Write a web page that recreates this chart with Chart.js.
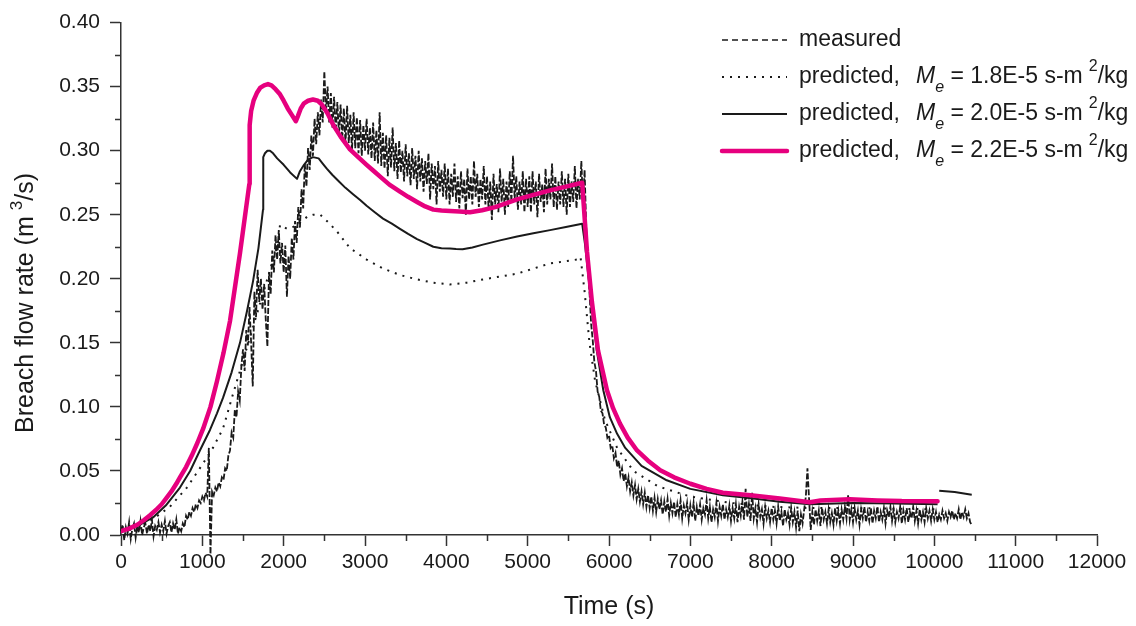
<!DOCTYPE html>
<html>
<head>
    <title>Breach flow rate</title>
    <script src="https://cdn.jsdelivr.net/npm/chart.js"></script>
    <style>
        body { margin: 0; background: #fff; }
    </style>
</head>
<body>
    <canvas id="myChart" width="1136" height="626"></canvas>
    <script>
        // measured breach flow, logged every 20 s from t = 0
        const measuredInterval = 20;
        const measuredFlow = [
            // 0 - 480 s
            0.003, 0.008, -0.004, 0.006, 0.001, 0.010, -0.003, 0.005, 0.009, -0.002,
            0.007, 0.002, 0.011, 0.000, 0.006, 0.009, 0.001, 0.008, 0.003, 0.012,
            -0.001, 0.007, 0.004, 0.010, 0.002,
            // 500 - 980 s
            0.008, 0.003, 0.011, 0.001, 0.007, 0.010, 0.002, 0.009, 0.004, 0.012,
            0.001, 0.006, 0.003, 0.009, 0.006, 0.015, 0.012, 0.018, 0.015, 0.021,
            0.018, 0.024, 0.021, 0.027, 0.025,
            // 1000 - 1480 s
            0.030, 0.027, 0.033, 0.030, 0.068, -0.015, 0.034, 0.031, 0.037, 0.034,
            0.041, 0.038, 0.045, 0.043, 0.052, 0.050, 0.062, 0.066, 0.080, 0.076,
            0.098, 0.092, 0.112, 0.105, 0.132,
            // 1500 - 1980 s
            0.145, 0.128, 0.160, 0.148, 0.178, 0.150, 0.116, 0.190, 0.170, 0.207,
            0.182, 0.200, 0.176, 0.196, 0.168, 0.147, 0.205, 0.188, 0.222, 0.205,
            0.234, 0.215, 0.238, 0.212, 0.228,
            // 2000 - 2480 s
            0.205, 0.226, 0.186, 0.218, 0.200, 0.232, 0.215, 0.245, 0.228, 0.256,
            0.240, 0.270, 0.255, 0.290, 0.272, 0.302, 0.285, 0.312, 0.296, 0.325,
            0.305, 0.330, 0.312, 0.340, 0.322,
            // 2500 - 2980 s
            0.362, 0.330, 0.350, 0.322, 0.345, 0.318, 0.342, 0.315, 0.338, 0.312,
            0.336, 0.309, 0.333, 0.305, 0.335, 0.306, 0.328, 0.300, 0.330, 0.302,
            0.326, 0.298, 0.324, 0.296, 0.320,
            // 3000 - 3480 s
            0.300, 0.325, 0.297, 0.318, 0.294, 0.322, 0.292, 0.316, 0.290, 0.330,
            0.288, 0.314, 0.286, 0.312, 0.280, 0.310, 0.287, 0.318, 0.284, 0.306,
            0.278, 0.308, 0.283, 0.300, 0.276,
            // 3500 - 3980 s
            0.305, 0.280, 0.298, 0.273, 0.302, 0.278, 0.296, 0.270, 0.300, 0.276,
            0.294, 0.268, 0.292, 0.274, 0.298, 0.262, 0.290, 0.270, 0.288, 0.258,
            0.292, 0.268, 0.285, 0.264, 0.290,
            // 4000 - 4480 s
            0.262, 0.286, 0.258, 0.282, 0.264, 0.290, 0.260, 0.280, 0.255, 0.284,
            0.263, 0.278, 0.250, 0.286, 0.262, 0.280, 0.258, 0.292, 0.264, 0.282,
            0.256, 0.278, 0.262, 0.288, 0.258,
            // 4500 - 4980 s
            0.280, 0.254, 0.276, 0.246, 0.282, 0.258, 0.274, 0.252, 0.286, 0.260,
            0.278, 0.250, 0.276, 0.256, 0.284, 0.260, 0.296, 0.262, 0.280, 0.254,
            0.276, 0.258, 0.284, 0.252, 0.278,
            // 5000 - 5480 s
            0.256, 0.280, 0.252, 0.284, 0.258, 0.276, 0.248, 0.282, 0.260, 0.274,
            0.252, 0.286, 0.258, 0.278, 0.262, 0.290, 0.256, 0.280, 0.254, 0.276,
            0.258, 0.284, 0.256, 0.278, 0.250,
            // 5500 - 5980 s
            0.282, 0.256, 0.276, 0.260, 0.288, 0.255, 0.278, 0.262, 0.292, 0.258,
            0.285, 0.240, 0.215, 0.190, 0.165, 0.152, 0.135, 0.128, 0.112, 0.108,
            0.097, 0.095, 0.086, 0.084, 0.076,
            // 6000 - 6480 s
            0.078, 0.068, 0.070, 0.060, 0.064, 0.053, 0.058, 0.047, 0.052, 0.042,
            0.048, 0.038, 0.045, 0.034, 0.041, 0.031, 0.039, 0.028, 0.036, 0.026,
            0.034, 0.024, 0.033, 0.022, 0.031,
            // 6500 - 6980 s
            0.021, 0.030, 0.019, 0.029, 0.018, 0.028, 0.020, 0.027, 0.016, 0.026,
            0.018, 0.028, 0.015, 0.025, 0.017, 0.026, 0.014, 0.024, 0.016, 0.027,
            0.013, 0.023, 0.017, 0.025, 0.012,
            // 7000 - 7480 s
            0.023, 0.014, 0.025, 0.011, 0.022, 0.015, 0.024, 0.012, 0.021, 0.016,
            0.027, 0.013, 0.022, 0.010, 0.020, 0.014, 0.025, 0.011, 0.022, 0.015,
            0.024, 0.012, 0.020, 0.014, 0.023,
            // 7500 - 7980 s
            0.011, 0.021, 0.013, 0.024, 0.010, 0.022, 0.015, 0.026, 0.012, 0.036,
            0.014, 0.024, 0.011, 0.033, 0.013, 0.021, 0.010, 0.024, 0.014, 0.020,
            0.009, 0.022, 0.013, 0.019, 0.010,
            // 8000 - 8480 s
            0.021, 0.012, 0.019, 0.009, 0.022, 0.011, 0.018, 0.007, 0.020, 0.012,
            0.017, 0.008, 0.021, 0.010, 0.018, 0.006, 0.019, 0.003, 0.016, 0.009,
            0.020, 0.030, 0.052, 0.028, 0.004,
            // 8500 - 8980 s
            0.018, 0.008, 0.020, 0.011, 0.019, 0.007, 0.021, 0.012, 0.018, 0.009,
            0.020, 0.010, 0.017, 0.008, 0.021, 0.011, 0.019, 0.009, 0.020, 0.012,
            0.022, 0.013, 0.031, 0.012, 0.020,
            // 9000 - 9480 s
            0.010, 0.021, 0.012, 0.019, 0.008, 0.020, 0.013, 0.022, 0.010, 0.018,
            0.011, 0.021, 0.009, 0.019, 0.013, 0.022, 0.010, 0.018, 0.012, 0.021,
            0.009, 0.019, 0.014, 0.022, 0.011,
            // 9500 - 9980 s
            0.020, 0.010, 0.018, 0.013, 0.022, 0.009, 0.019, 0.012, 0.021, 0.010,
            0.018, 0.013, 0.022, 0.011, 0.019, 0.009, 0.020, 0.012, 0.018, 0.010,
            0.021, 0.013, 0.019, 0.011, 0.020,
            // 10000 - 10460 s
            0.012, 0.018, 0.010, 0.016, 0.012, 0.019, 0.013, 0.017, 0.011, 0.018,
            0.014, 0.019, 0.012, 0.017, 0.013, 0.020, 0.012, 0.018, 0.014, 0.020,
            0.013, 0.017, 0.010, 0.008
        ];

        // predicted, Me = 1.8E-5
        const pred18Time = [0, 250, 450, 600, 810, 1000, 1130, 1254, 1377, 1500,
            1650, 1800, 1930, 1955, 2040, 2140, 2240, 2300, 2360, 2450,
            2550, 2655, 2815, 3020, 3222, 3430, 3640, 3840, 4045, 4250,
            4450, 4870, 5275, 5605, 5650, 5700, 5760, 5830, 5950, 6100,
            6300, 6600, 7000, 7500, 8000, 8500, 9000, 9500, 10040];
        const pred18Flow = [0.002, 0.007, 0.015, 0.022, 0.037, 0.055, 0.068, 0.083, 0.110, 0.136,
            0.168, 0.200, 0.228, 0.242, 0.239, 0.241, 0.246, 0.249, 0.250, 0.250,
            0.244, 0.237, 0.224, 0.215, 0.208, 0.203, 0.1995, 0.197, 0.1956, 0.197,
            0.1995, 0.204, 0.212, 0.215, 0.217, 0.190, 0.150, 0.120, 0.090, 0.068,
            0.050, 0.038, 0.030, 0.025, 0.022, 0.021, 0.021, 0.0205, 0.020];

        // predicted, Me = 2.0E-5 (null = break in the line)
        const pred20Time = [0, 200, 400, 550, 725, 850, 970, 1094, 1180, 1254,
            1360, 1463, 1550, 1623, 1690, 1746, 1749, 1770, 1800, 1832,
            1870, 1920, 2000, 2080, 2164, 2200, 2250, 2300, 2360, 2430,
            2480, 2530, 2600, 2680, 2760, 2853, 2940, 3020, 3120, 3222,
            3330, 3430, 3530, 3640, 3740, 3840, 3940, 4045, 4120, 4200,
            4320, 4450, 4660, 4870, 5070, 5275, 5470, 5670, 5705, 5780,
            5850, 5930, 6010, 6100, 6200, 6400, 6710, 7000, 7400, 7750,
            8100, 8470, 9000, 9500, 10040, 10050, 10060, 10250, 10460];
        const pred20Flow = [0.003, 0.007, 0.014, 0.023, 0.037, 0.050, 0.066, 0.082, 0.095, 0.107,
            0.127, 0.150, 0.175, 0.198, 0.224, 0.254, 0.295, 0.298, 0.300, 0.300,
            0.298, 0.294, 0.289, 0.283, 0.278, 0.284, 0.289, 0.293, 0.295, 0.294,
            0.290, 0.286, 0.281, 0.276, 0.271, 0.266, 0.2615, 0.257, 0.252, 0.247,
            0.243, 0.239, 0.235, 0.231, 0.228, 0.225, 0.2238, 0.2236, 0.2232, 0.223,
            0.2245, 0.2267, 0.230, 0.233, 0.2355, 0.238, 0.2405, 0.243, 0.227, 0.182,
            0.144, 0.113, 0.092, 0.079, 0.068, 0.054, 0.0427, 0.036, 0.031, 0.0287,
            0.026, 0.024, 0.025, 0.0245, 0.024, null, 0.0345, 0.0335, 0.0315];

        // predicted, Me = 2.2E-5
        const pred22Time = [0, 100, 200, 280, 357, 430, 500, 560, 620, 680,
            725, 800, 870, 940, 1010, 1100, 1180, 1260, 1340, 1463,
            1578, 1582, 1600, 1630, 1670, 1710, 1760, 1807, 1850, 1900,
            1955, 2000, 2050, 2100, 2150, 2175, 2210, 2250, 2300, 2360,
            2420, 2470, 2540, 2610, 2700, 2815, 2900, 3020, 3100, 3200,
            3300, 3430, 3530, 3640, 3740, 3840, 3940, 4045, 4160, 4290,
            4440, 4600, 4740, 4870, 5070, 5275, 5470, 5670, 5730, 5790,
            5865, 5975, 6050, 6135, 6230, 6345, 6480, 6630, 6800, 7000,
            7200, 7400, 7740, 8100, 8470, 8600, 8960, 9300, 9600, 10040];
        const pred22Flow = [0.003, 0.005, 0.008, 0.0115, 0.0155, 0.0195, 0.024, 0.029, 0.034, 0.040,
            0.045, 0.053, 0.062, 0.072, 0.083, 0.100, 0.120, 0.142, 0.167, 0.220,
            0.274, 0.320, 0.331, 0.339, 0.345, 0.349, 0.351, 0.352, 0.351, 0.348,
            0.344, 0.339, 0.333, 0.328, 0.323, 0.327, 0.333, 0.337, 0.339, 0.340,
            0.339, 0.336, 0.329, 0.320, 0.311, 0.301, 0.296, 0.289, 0.2845, 0.279,
            0.2735, 0.268, 0.264, 0.260, 0.2565, 0.254, 0.2533, 0.253, 0.2525, 0.252,
            0.2535, 0.256, 0.259, 0.262, 0.2655, 0.269, 0.272, 0.275, 0.221, 0.182,
            0.144, 0.113, 0.099, 0.087, 0.076, 0.066, 0.058, 0.0505, 0.045, 0.040,
            0.036, 0.033, 0.031, 0.0285, 0.0256, 0.027, 0.028, 0.027, 0.0265, 0.0264];

        const legendCoeffs = ['1.8E-5', '2.0E-5', '2.2E-5'];

        const FONT = '"Liberation Sans", Arial, Helvetica, sans-serif';
        const PINK = '#e6007e';
        const INK = '#1a1a1a';

        function toPoints(ts, vs) {
            return ts.map((t, i) => ({ x: t, y: vs[i] }));
        }

        // small ticks halfway between the labelled ones
        const minorTicks = {
            id: 'minorTicks',
            afterDraw(chart) {
                const { ctx, scales: { x, y } } = chart;
                ctx.save();
                ctx.strokeStyle = '#333';
                ctx.lineWidth = 1.5;
                ctx.beginPath();
                for (let t = 500; t < 12000; t += 1000) {
                    const px = Math.round(x.getPixelForValue(t)) + 0.5;
                    ctx.moveTo(px, y.bottom);
                    ctx.lineTo(px, y.bottom + 6);
                }
                for (let v = 0.025; v < 0.4; v += 0.05) {
                    const py = Math.round(y.getPixelForValue(v)) + 0.5;
                    ctx.moveTo(x.left, py);
                    ctx.lineTo(x.left - 6, py);
                }
                ctx.stroke();
                ctx.restore();
            }
        };

        // y title with the superscript 3
        const yTitle = {
            id: 'yTitle',
            afterDraw(chart) {
                const ctx = chart.ctx;
                ctx.save();
                ctx.fillStyle = INK;
                ctx.textBaseline = 'alphabetic';
                ctx.translate(33, 433);
                ctx.rotate(-Math.PI / 2);
                let x = 0;
                ctx.font = '25px ' + FONT;
                ctx.fillText('Breach flow rate (m', x, 0);
                x += ctx.measureText('Breach flow rate (m').width + 6;
                ctx.font = '17px ' + FONT;
                ctx.fillText('3', x, -11);
                x += ctx.measureText('3').width;
                ctx.font = '25px ' + FONT;
                ctx.fillText('/s)', x, 0);
                ctx.restore();
            }
        };

        // legend box in the upper right
        const richLegend = {
            id: 'richLegend',
            afterDraw(chart) {
                const ctx = chart.ctx;
                const x0 = 722, x1 = 787, tx = 799;
                const rows = [40, 77, 114, 151];
                ctx.save();

                const samples = [
                    { color: INK, width: 1.3, dash: [6, 4] },
                    { color: INK, width: 2, dash: [2, 6] },
                    { color: INK, width: 2, dash: [] },
                    { color: PINK, width: 4.5, dash: [] }
                ];
                samples.forEach((s, i) => {
                    ctx.strokeStyle = s.color;
                    ctx.lineWidth = s.width;
                    ctx.setLineDash(s.dash);
                    ctx.lineCap = s.width > 4 ? 'round' : 'butt';
                    ctx.beginPath();
                    ctx.moveTo(x0, rows[i]);
                    ctx.lineTo(x1, rows[i]);
                    ctx.stroke();
                });
                ctx.setLineDash([]);

                ctx.fillStyle = INK;
                ctx.textBaseline = 'middle';
                ctx.font = '23px ' + FONT;
                ctx.fillText('measured', tx, rows[0]);

                legendCoeffs.forEach((c, i) => {
                    const y = rows[i + 1];
                    let x = tx;
                    ctx.font = '23px ' + FONT;
                    ctx.fillText('predicted,', x, y);
                    x += ctx.measureText('predicted,').width + 16;
                    ctx.font = 'italic 23px ' + FONT;
                    ctx.fillText('M', x, y);
                    x += ctx.measureText('M').width;
                    ctx.font = 'italic 16px ' + FONT;
                    ctx.fillText('e', x, y + 11);
                    x += ctx.measureText('e').width;
                    ctx.font = '23px ' + FONT;
                    const mid = ' = ' + c + ' s-m';
                    ctx.fillText(mid, x, y);
                    x += ctx.measureText(mid).width + 6;
                    ctx.font = '16px ' + FONT;
                    ctx.fillText('2', x, y - 10);
                    x += ctx.measureText('2').width;
                    ctx.font = '23px ' + FONT;
                    ctx.fillText('/kg', x, y);
                });
                ctx.restore();
            }
        };

        const ctx = document.getElementById('myChart').getContext('2d');
        new Chart(ctx, {
            type: 'line',
            data: {
                datasets: [
                    {
                        label: 'predicted, Me = 2.2E-5 s-m2/kg',
                        data: toPoints(pred22Time, pred22Flow),
                        borderColor: PINK,
                        borderWidth: 4.5,
                        borderCapStyle: 'round',
                        borderJoinStyle: 'round'
                    },
                    {
                        label: 'predicted, Me = 2.0E-5 s-m2/kg',
                        data: toPoints(pred20Time, pred20Flow),
                        borderColor: INK,
                        borderWidth: 2,
                        borderJoinStyle: 'round',
                        spanGaps: false
                    },
                    {
                        label: 'measured',
                        data: measuredFlow.map((v, i) => ({ x: i * measuredInterval, y: v })),
                        borderColor: INK,
                        borderWidth: 1.8,
                        borderDash: [6, 2],
                        clip: { left: 2, top: 2, right: 2, bottom: 25 }
                    },
                    {
                        label: 'predicted, Me = 1.8E-5 s-m2/kg',
                        data: toPoints(pred18Time, pred18Flow),
                        borderColor: INK,
                        borderWidth: 2,
                        borderDash: [2, 6]
                    }
                ]
            },
            options: {
                responsive: false,
                animation: false,
                events: [],
                elements: { point: { radius: 0 }, line: { tension: 0 } },
                layout: { padding: { top: 19, right: 39, left: 0, bottom: 0 } },
                plugins: {
                    legend: { display: false },
                    tooltip: { enabled: false }
                },
                scales: {
                    x: {
                        type: 'linear',
                        min: 0,
                        max: 12000,
                        afterFit: (scale) => { scale.height = 91; },
                        border: { display: true, color: '#333', width: 1.5 },
                        grid: { drawOnChartArea: false, drawTicks: true, tickLength: 11, tickColor: '#333', tickWidth: 1.5 },
                        ticks: {
                            stepSize: 1000,
                            autoSkip: false,
                            maxRotation: 0,
                            padding: 4,
                            color: INK,
                            font: { family: FONT, size: 21 },
                            callback: (v) => String(v)
                        },
                        title: {
                            display: true,
                            text: 'Time (s)',
                            color: INK,
                            font: { family: FONT, size: 25 },
                            padding: { top: 0, bottom: 4 }
                        }
                    },
                    y: {
                        min: 0,
                        max: 0.4,
                        afterFit: (scale) => { scale.width = 121; },
                        border: { display: true, color: '#333', width: 1.5 },
                        grid: { drawOnChartArea: false, drawTicks: true, tickLength: 11, tickColor: '#333', tickWidth: 1.5 },
                        ticks: {
                            stepSize: 0.05,
                            padding: 10,
                            color: INK,
                            font: { family: FONT, size: 21 },
                            callback: (v) => v.toFixed(2)
                        }
                    }
                }
            },
            plugins: [minorTicks, yTitle, richLegend]
        });
    </script>
</body>
</html>
